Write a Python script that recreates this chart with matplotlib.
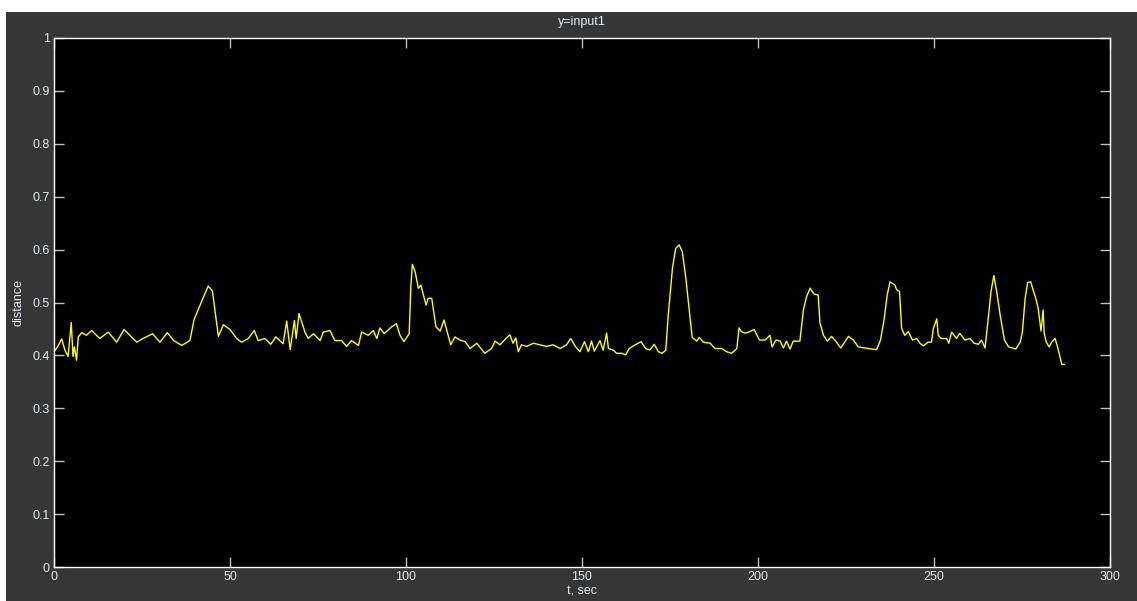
import matplotlib
matplotlib.use("Agg")
import matplotlib.pyplot as plt
from matplotlib.patches import Rectangle

# signal (time in seconds, distance)
t_sec = [0.0, 0.8, 2.2, 3.1, 4.0, 4.9, 5.4, 5.8, 6.4, 6.9, 7.9, 9.2, 10.7, 13.0, 15.4,
         17.8, 19.9, 22.0, 23.5, 25.3, 28.0, 30.1, 32.2, 34.0, 36.3, 38.6, 39.8, 42.0,
         43.8, 45.0, 46.7, 48.1, 50.0, 51.9, 53.3, 55.2, 56.9, 58.0, 59.9, 61.6, 63.0,
         65.1, 66.1, 67.1, 68.3, 68.8, 69.6, 71.3, 72.2, 73.7, 75.6, 76.5, 78.4, 79.8,
         81.7, 83.1, 84.5, 86.5, 87.4, 89.3, 90.7, 91.7, 92.6, 93.8, 95.9, 97.3, 98.3,
         99.4, 100.9, 101.4, 101.8, 102.6, 103.5, 104.2, 105.7, 106.3, 107.3, 108.5,
         109.7, 110.8, 111.7, 112.7, 113.9, 115.3, 116.8, 118.2, 120.1, 122.4, 124.3,
         125.3, 126.7, 128.4, 129.5, 130.4, 131.2, 131.9, 132.8, 134.3, 136.2, 138.1,
         139.9, 141.8, 143.8, 145.6, 146.8, 148.1, 149.4, 150.7, 151.8, 152.7, 153.5,
         155.1, 156.0, 157.0, 157.5, 158.9, 159.8, 161.3, 162.4, 163.4, 165.1, 166.8,
         168.1, 169.3, 170.5, 171.7, 172.8, 173.8, 174.5, 175.7, 176.6, 177.6, 178.5,
         179.5, 180.4, 181.3, 182.6, 183.3, 184.5, 186.4, 187.8, 189.7, 191.1, 192.5,
         194.0, 194.6, 195.3, 196.3, 197.7, 198.9, 200.4, 202.0, 203.4, 204.0, 205.1,
         206.3, 207.2, 208.1, 209.1, 210.0, 211.9, 212.9, 213.8, 214.8, 215.9, 217.1,
         217.6, 218.6, 219.7, 220.9, 222.1, 223.5, 224.4, 225.7, 227.1, 228.5, 230.4,
         232.3, 233.7, 234.8, 235.8, 236.7, 237.5, 238.9, 239.4, 240.2, 240.8, 241.7,
         242.7, 243.9, 245.1, 246.0, 247.0, 248.3, 249.3, 249.8, 250.8, 251.2, 252.0,
         253.6, 254.2, 255.0, 256.4, 257.3, 258.8, 260.2, 261.4, 262.6, 263.5, 264.5,
         265.2, 266.2, 267.0, 267.8, 268.8, 270.0, 271.2, 272.3, 273.2, 274.5, 275.1,
         275.9, 276.6, 277.5, 278.0, 278.9, 279.6, 280.4, 281.0, 281.3, 281.9, 282.7,
         283.4, 284.4, 285.1, 286.3, 287.0]
distance = [0.407, 0.414, 0.431, 0.410, 0.398, 0.462, 0.398, 0.416, 0.391, 0.435, 0.443,
            0.438, 0.447, 0.432, 0.444, 0.425, 0.449, 0.435, 0.425, 0.432, 0.441, 0.425,
            0.443, 0.428, 0.419, 0.428, 0.468, 0.503, 0.531, 0.522, 0.436, 0.458, 0.449,
            0.432, 0.425, 0.432, 0.447, 0.428, 0.432, 0.421, 0.435, 0.422, 0.465, 0.411,
            0.466, 0.432, 0.479, 0.444, 0.432, 0.441, 0.428, 0.444, 0.447, 0.428, 0.428,
            0.417, 0.428, 0.419, 0.444, 0.438, 0.447, 0.432, 0.452, 0.441, 0.454, 0.460,
            0.438, 0.426, 0.441, 0.533, 0.572, 0.558, 0.527, 0.533, 0.495, 0.508, 0.508,
            0.454, 0.446, 0.467, 0.445, 0.420, 0.435, 0.429, 0.426, 0.413, 0.423, 0.404,
            0.413, 0.427, 0.420, 0.432, 0.439, 0.423, 0.433, 0.407, 0.420, 0.417, 0.423,
            0.420, 0.417, 0.420, 0.413, 0.420, 0.432, 0.417, 0.407, 0.426, 0.407, 0.427,
            0.408, 0.428, 0.410, 0.442, 0.413, 0.410, 0.404, 0.404, 0.401, 0.413, 0.420,
            0.426, 0.413, 0.410, 0.421, 0.407, 0.404, 0.410, 0.476, 0.565, 0.602, 0.609,
            0.596, 0.546, 0.489, 0.434, 0.427, 0.434, 0.425, 0.423, 0.413, 0.413, 0.407,
            0.404, 0.413, 0.452, 0.445, 0.442, 0.445, 0.449, 0.429, 0.429, 0.438, 0.416,
            0.429, 0.427, 0.414, 0.427, 0.412, 0.427, 0.427, 0.486, 0.511, 0.527, 0.516,
            0.514, 0.461, 0.438, 0.427, 0.436, 0.427, 0.414, 0.423, 0.436, 0.429, 0.416,
            0.414, 0.412, 0.411, 0.429, 0.467, 0.514, 0.539, 0.533, 0.524, 0.521, 0.451,
            0.438, 0.445, 0.429, 0.432, 0.423, 0.418, 0.425, 0.425, 0.451, 0.469, 0.438,
            0.432, 0.432, 0.423, 0.444, 0.432, 0.442, 0.429, 0.432, 0.423, 0.421, 0.429,
            0.414, 0.457, 0.521, 0.551, 0.521, 0.476, 0.429, 0.416, 0.414, 0.412, 0.425,
            0.444, 0.508, 0.538, 0.539, 0.527, 0.508, 0.489, 0.446, 0.486, 0.442, 0.425,
            0.416, 0.425, 0.432, 0.416, 0.383, 0.383]

x_ticks = [0, 50, 100, 150, 200, 250, 300]
y_ticks = [0, 0.1, 0.2, 0.3, 0.4, 0.5, 0.6, 0.7, 0.8, 0.9, 1]
y_tick_labels = ["0", "0.1", "0.2", "0.3", "0.4", "0.5", "0.6", "0.7", "0.8", "0.9", "1"]

plt.rcParams["font.family"] = ["Liberation Sans", "DejaVu Sans"]

fig = plt.figure(figsize=(11.37, 6.01), dpi=100, facecolor="white")
# dark scope window behind the axes (white strip at top and left)
fig.patches.append(Rectangle((6 / 1137, 0), 1, 589 / 601, transform=fig.transFigure,
                             facecolor="#363636", edgecolor="none", zorder=-10))

ax = fig.add_axes([54 / 1137, 34 / 601, 1056 / 1137, 529 / 601])
ax.set_zorder(5)
ax.set_facecolor("black")
ax.plot(t_sec, distance, color="#ffff00", linewidth=1.0)

ax.set_xlim(0, 300)
ax.set_ylim(0, 1)
ax.set_xticks(x_ticks)
ax.set_yticks(y_ticks)
ax.set_yticklabels(y_tick_labels)

text_col = "#e4ecf4"
ax.tick_params(direction="in", length=7.5, width=1, color="#c0c0c0",
               labelcolor=text_col, labelsize=9, pad=3,
               top=True, right=True)
for sp in ax.spines.values():
    sp.set_color("white")
    sp.set_linewidth(1)

ax.set_title("y=input1", color=text_col, fontsize=9, pad=9)
ax.set_xlabel("t, sec", color=text_col, fontsize=9, labelpad=2)
ax.set_ylabel("distance", color=text_col, fontsize=9, labelpad=6)

fig.savefig("out.png", dpi=100, facecolor=fig.get_facecolor())
